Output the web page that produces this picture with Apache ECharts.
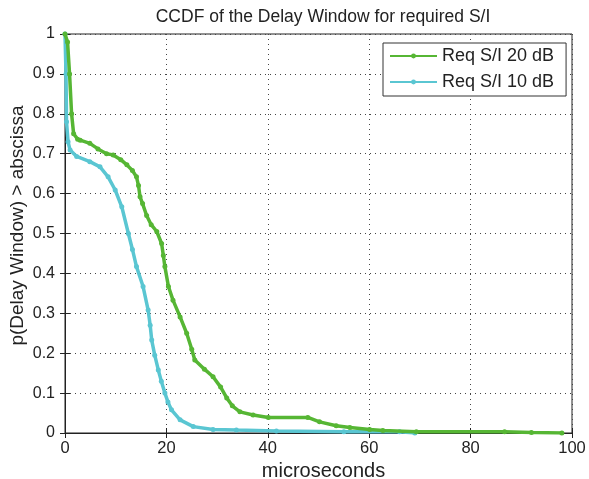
<!DOCTYPE html>
<html>
<head>
<meta charset="utf-8">
<script src="https://cdn.jsdelivr.net/npm/echarts@6/dist/echarts.min.js"></script>
<style>html,body{margin:0;padding:0;background:#fff;}#c{width:589px;height:479px;}</style>
</head>
<body>
<div id="c"></div>
<script>
const titleText = "CCDF of the Delay Window for required S/I";
const xLabel = "microseconds";
const yLabel = "p(Delay Window) > abscissa";
const seriesNames = ["Req S/I 20 dB", "Req S/I 10 dB"];
const green20 = [[0,1],[0.5,0.98],[0.9,0.9],[1.3,0.8],[1.7,0.75],[2.5,0.736],[3.0,0.734],[4.9,0.726],[6.5,0.712],[8.2,0.70],[9.5,0.697],[11,0.685],[12.2,0.672],[13.3,0.658],[14.1,0.642],[14.5,0.62],[14.8,0.592],[15.3,0.575],[16.1,0.545],[17,0.522],[18.1,0.505],[19.05,0.475],[19.4,0.445],[19.7,0.417],[20.4,0.367],[21.3,0.333],[22.7,0.291],[24.0,0.25],[25.0,0.21],[25.6,0.183],[27.5,0.16],[29.2,0.141],[30.7,0.115],[31.9,0.088],[33.0,0.068],[34.5,0.053],[37.1,0.045],[40.1,0.039],[47.9,0.039],[50.2,0.028],[53.5,0.018],[56.2,0.014],[60.1,0.009],[62.7,0.006],[69.3,0.003],[86.7,0.003],[92,0.001],[98,0]];
const cyan10 = [[0,1],[0.2,0.9],[0.3,0.78],[0.6,0.73],[1.0,0.709],[2.3,0.693],[4.9,0.68],[6.9,0.667],[8.5,0.642],[9.9,0.609],[11.2,0.567],[12.5,0.50],[13.3,0.46],[14.1,0.417],[15.4,0.367],[16.4,0.308],[16.8,0.27],[17.1,0.233],[17.7,0.195],[18.4,0.158],[19.0,0.13],[19.7,0.10],[20.3,0.078],[21.0,0.058],[22.7,0.033],[25.3,0.016],[29.2,0.009],[33.8,0.0075],[41.7,0.005],[55,0.003],[66,0.003],[69,0]];
const xTicks = [0,20,40,60,80,100];
const yTicks = [0,0.1,0.2,0.3,0.4,0.5,0.6,0.7,0.8,0.9,1];

const chart = echarts.init(document.getElementById('c'));
const font = 'Liberation Sans, Arial, sans-serif';
const gridLine = {show:true, lineStyle:{color:'#444', type:[1,4], width:1}};
chart.setOption({
  animation:false,
  backgroundColor:'#fff',
  title:{text:titleText, left:318, top:3, textAlign:'center',
    textStyle:{fontFamily:font, fontSize:17.5, fontWeight:'normal', color:'#222'}},
  legend:{orient:'vertical', left:383, top:43,
    padding:[4,12,5,6], itemGap:8, itemWidth:47, itemHeight:6,
    borderColor:'#333', borderWidth:1, backgroundColor:'#fff',
    textStyle:{fontFamily:font, fontSize:18, color:'#222'},
    data:seriesNames},
  grid:{left:65, right:17, top:34, bottom:46, containLabel:false, outerBoundsMode:'none',
    show:true, borderColor:'#222', borderWidth:1},
  xAxis:[{type:'value', min:0, max:100, interval:20, position:'bottom',
    name:xLabel, nameLocation:'middle', nameGap:19,
    nameTextStyle:{fontFamily:font, fontSize:20, color:'#222', padding:[0,0,0,10]},
    axisLine:{lineStyle:{color:'#222'}}, axisTick:{inside:true, length:5, lineStyle:{color:'#222'}},
    axisLabel:{fontFamily:font, fontSize:16.5, color:'#222', margin:7,
      formatter:v=>xTicks.includes(v)?String(v):''},
    splitLine:gridLine},
   {type:'value', min:0, max:100, interval:20, position:'top',
    axisLine:{lineStyle:{color:'#222'}}, axisTick:{inside:true, length:5, lineStyle:{color:'#222'}},
    axisLabel:{show:false}, splitLine:{show:false}}],
  yAxis:[{type:'value', min:0, max:1, interval:0.1, position:'left',
    name:yLabel, nameLocation:'middle', nameGap:38, nameRotate:90, nameMoveOverlap:false,
    nameTextStyle:{fontFamily:font, fontSize:19, color:'#222', padding:[0,0,0,16]},
    axisLine:{lineStyle:{color:'#222'}}, axisTick:{inside:true, length:5, lineStyle:{color:'#222'}},
    axisLabel:{fontFamily:font, fontSize:16, color:'#222', margin:10,
      formatter:v=>{const r=Math.round(v*10)/10; return yTicks.includes(r)?String(r):'';}},
    splitLine:gridLine},
   {type:'value', min:0, max:1, interval:0.1, position:'right',
    axisLine:{lineStyle:{color:'#222'}}, axisTick:{inside:true, length:5, lineStyle:{color:'#222'}},
    axisLabel:{show:false}, splitLine:{show:false}}],
  series:[
    {name:seriesNames[0], type:'line', data:green20, xAxisIndex:0, yAxisIndex:0,
     symbol:'circle', symbolSize:5, showAllSymbol:true, z:3,
     lineStyle:{color:'#56b634', width:3.5}, itemStyle:{color:'#56b634'}},
    {name:seriesNames[1], type:'line', data:cyan10, xAxisIndex:0, yAxisIndex:0,
     symbol:'circle', symbolSize:5, showAllSymbol:true, z:2,
     lineStyle:{color:'#5ac6d2', width:3.5}, itemStyle:{color:'#5ac6d2'}}
  ]
});
</script>
</body>
</html>
